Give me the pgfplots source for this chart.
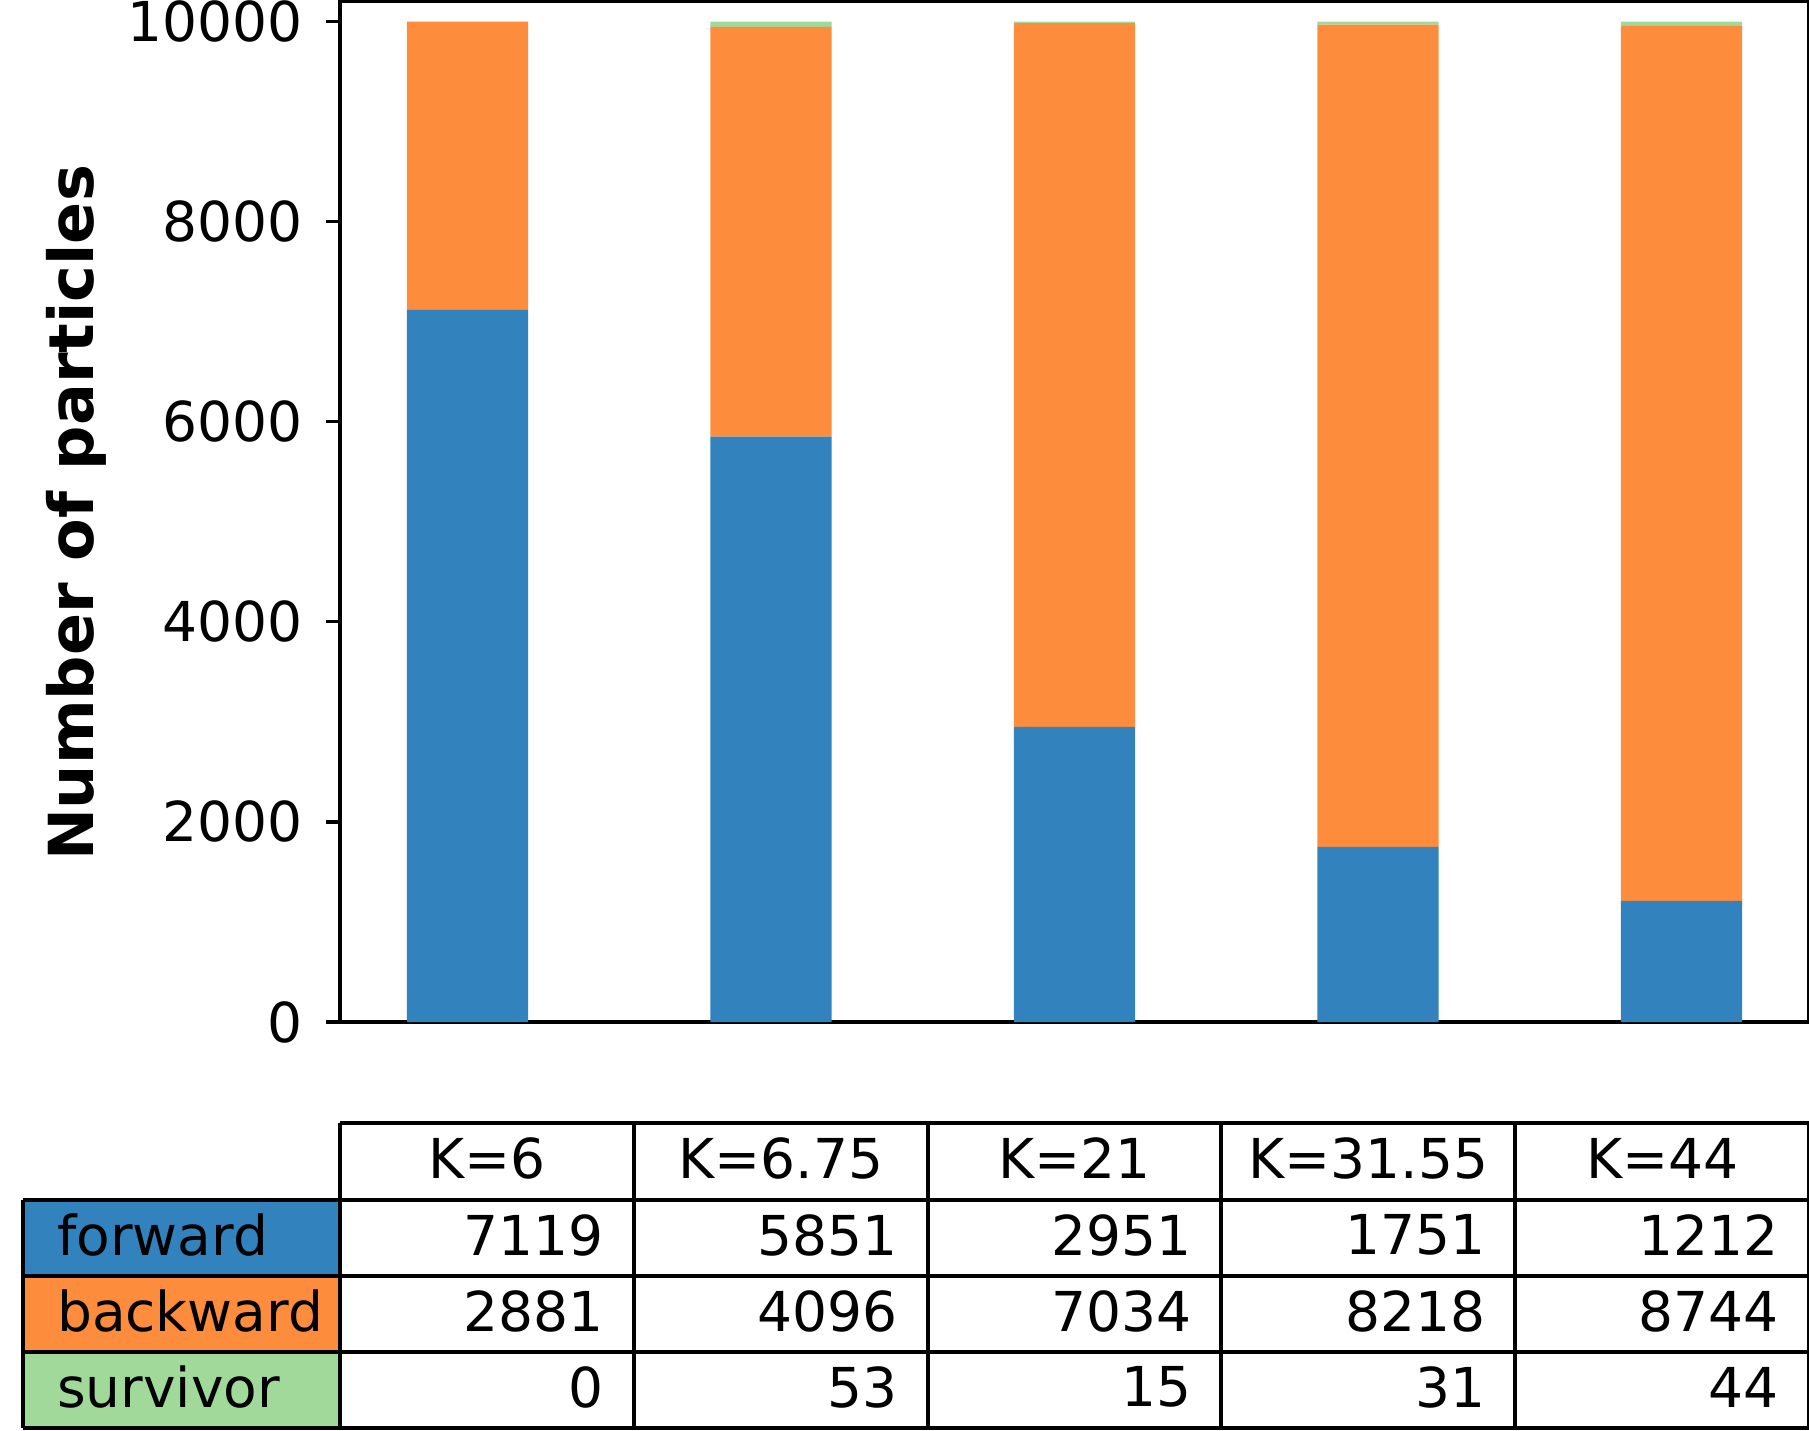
\documentclass[border=0pt]{standalone}
\usepackage{fontspec}
\setmainfont{DejaVu Sans}
\usepackage{pgfplots}
\pgfplotsset{compat=1.18}
\definecolor{cfw}{HTML}{3182BD}
\definecolor{cbw}{HTML}{FD8D3C}
\definecolor{csv}{HTML}{A1D99B}
\begin{document}
\fontsize{13.2}{15.8}\selectfont
\begin{tikzpicture}[font=\fontsize{13.2}{15.8}\selectfont]
\path[use as bounding box] (-340*0.24pt, -408*0.24pt) rectangle (1469*0.24pt, 1022*0.24pt);
\begin{axis}[
  at={(0,0)}, anchor=south west, scale only axis,
  width=352.56pt, height=244.92pt,
  xmin=-0.42, xmax=4.42, ymin=0, ymax=10200,
  ybar stacked, bar width=0.4,
  xtick=\empty,
  ytick={0,2000,4000,6000,8000,10000},
  axis line style={line width=0.8pt},
  tick style={line width=0.8pt, black},
  tick align=outside, major tick length=3.24pt,
  ytick pos=left,
  yticklabel style={/pgf/number format/1000 sep={}, anchor=east, xshift=-1.1pt},
  scaled y ticks=false,
  /pgf/number format/assume math mode=true,
  ylabel={Number of particles},
  ylabel style={font=\fontsize{14.9}{17.8}\selectfont\bfseries, at={(axis description cs:-0.1795,0.4988)}, anchor=center},
]
\addplot[fill=cfw, draw=none] coordinates {(0,7119) (1,5851) (2,2951) (3,1751) (4,1212)};
\addplot[fill=cbw, draw=none] coordinates {(0,2881) (1,4096) (2,7034) (3,8218) (4,8744)};
\addplot[fill=csv, draw=none] coordinates {(0,0) (1,53) (2,15) (3,31) (4,44)};
\end{axis}
\begin{scope}[x=0.24pt, y=0.24pt, line width=1pt]
  \fill[cfw] (-317,-178) rectangle (0,-254);
  \fill[cbw] (-317,-254) rectangle (0,-330);
  \fill[csv] (-317,-330) rectangle (0,-406);
  % grid
  \draw (0,-101) -- (1469,-101);
  \foreach \yy in {-178,-254,-330,-406} { \draw (-317,\yy) -- (1469,\yy); }
  \draw (-317,-178) -- (-317,-406);
  \foreach \xx in {0,293.8,587.6,881.4,1175.2,1469} { \draw (\xx,-101) -- (\xx,-406); }
  % header
  \node[anchor=center, inner sep=0pt] at (146.9,-136.5) {K=6};
  \node[anchor=center, inner sep=0pt] at (440.7,-136.5) {K=6.75};
  \node[anchor=center, inner sep=0pt] at (734.5,-136.5) {K=21};
  \node[anchor=center, inner sep=0pt] at (1028.3,-136.5) {K=31.55};
  \node[anchor=center, inner sep=0pt] at (1322.1,-136.5) {K=44};
  % row labels
  \node[anchor=west, inner sep=0pt] at (-285,-213) {forward};
  \node[anchor=west, inner sep=0pt] at (-285,-289) {backward};
  \node[anchor=west, inner sep=0pt] at (-285,-365) {survivor};
  % values
  \foreach \v [count=\i from 1] in {7119,5851,2951,1751,1212} {
    \node[anchor=east, inner sep=0pt] at ({\i*293.8-28},-213) {\v};
  }
  \foreach \v [count=\i from 1] in {2881,4096,7034,8218,8744} {
    \node[anchor=east, inner sep=0pt] at ({\i*293.8-28},-289) {\v};
  }
  \foreach \v [count=\i from 1] in {0,53,15,31,44} {
    \node[anchor=east, inner sep=0pt] at ({\i*293.8-28},-365) {\v};
  }
\end{scope}
\end{tikzpicture}
\end{document}
